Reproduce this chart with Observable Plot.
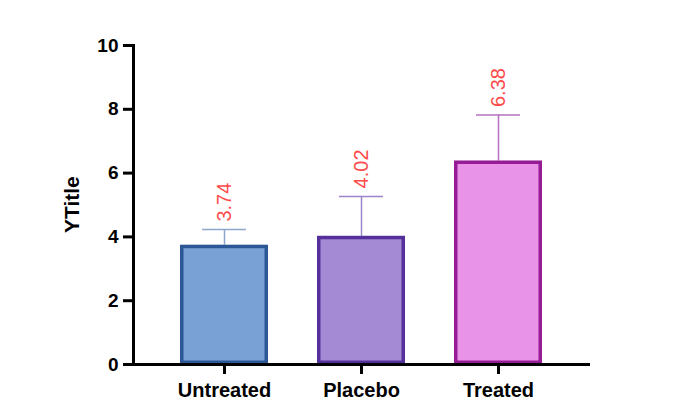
<!DOCTYPE html>
<html>
<head>
<meta charset="utf-8">
<script src="https://cdn.jsdelivr.net/npm/d3@7"></script>
<script src="https://cdn.jsdelivr.net/npm/@observablehq/plot@0.6"></script>
<style>
  html, body { margin: 0; padding: 0; background: #fff; }
  #chart { width: 680px; height: 416px; }
</style>
</head>
<body>
<div id="chart"></div>
<script>
// Group means with their standard deviations (upper error bar only)
const groups = ["Untreated", "Placebo", "Treated"];
const means = [3.74, 4.02, 6.38];
const sds = [0.49, 1.25, 1.44];
const yTicks = [0, 2, 4, 6, 8, 10];

// Per-group styling
const fills = ["#7aa1d5", "#a48ad4", "#e893e8"];
const strokes = ["#2b5797", "#55309a", "#951c95"];
const errColors = ["#8ea6cc", "#9a85cc", "#b670bd"];

const data = groups.map((g, i) => ({
  group: g,
  mean: means[i],
  upper: means[i] + sds[i],
  fill: fills[i],
  stroke: strokes[i],
  err: errColors[i]
}));

const font = "Liberation Sans, Arial, Helvetica, sans-serif";

const chart = Plot.plot({
  width: 680,
  height: 416,
  marginLeft: 133,
  marginRight: 90,
  marginTop: 45,
  marginBottom: 52,
  style: { fontFamily: font, background: "#fff" },
  x: { domain: groups, paddingInner: 0.357, paddingOuter: 0.343, label: null },
  y: { domain: [0, 10], label: null },
  marks: [
    // error bars: stem and cap
    Plot.ruleX(data, { x: "group", y1: "mean", y2: "upper", stroke: (d) => d.err, strokeWidth: 1.5 }),
    Plot.tickY(data, { x: "group", y: "upper", stroke: (d) => d.err, strokeWidth: 1.5, inset: 22 }),
    // bars
    Plot.barY(data, {
      x: "group", y: "mean",
      fill: (d) => d.fill, stroke: (d) => d.stroke,
      strokeWidth: 3.5, inset: 1.75
    }),
    // value labels above each error bar
    Plot.text(data, {
      x: "group", y: "upper",
      text: (d) => d.mean.toFixed(2),
      rotate: -90, textAnchor: "start", dy: -8,
      fill: "#ff4a4a", fontSize: 20, fontFamily: font
    }),
    // axes
    Plot.axisY({
      ticks: yTicks, tickSize: 10, tickPadding: 5, strokeWidth: 3,
      fontSize: 19, fontWeight: "bold", fill: "#000", label: null
    }),
    Plot.axisX({
      tickSize: 10, tickPadding: 8, strokeWidth: 3,
      fontSize: 20, fontWeight: "bold", fill: "#000", label: null
    }),
    Plot.ruleY([0], { stroke: "#000", strokeWidth: 3 }),
    Plot.frame({ anchor: "left", stroke: "#000", strokeWidth: 3 }),
    // y-axis title
    Plot.text(["YTitle"], {
      frameAnchor: "left", dx: -61, dy: 28, rotate: -90,
      fontSize: 21, fontWeight: "bold", fill: "#000", fontFamily: font
    })
  ]
});

document.getElementById("chart").appendChild(chart);
</script>
</body>
</html>
